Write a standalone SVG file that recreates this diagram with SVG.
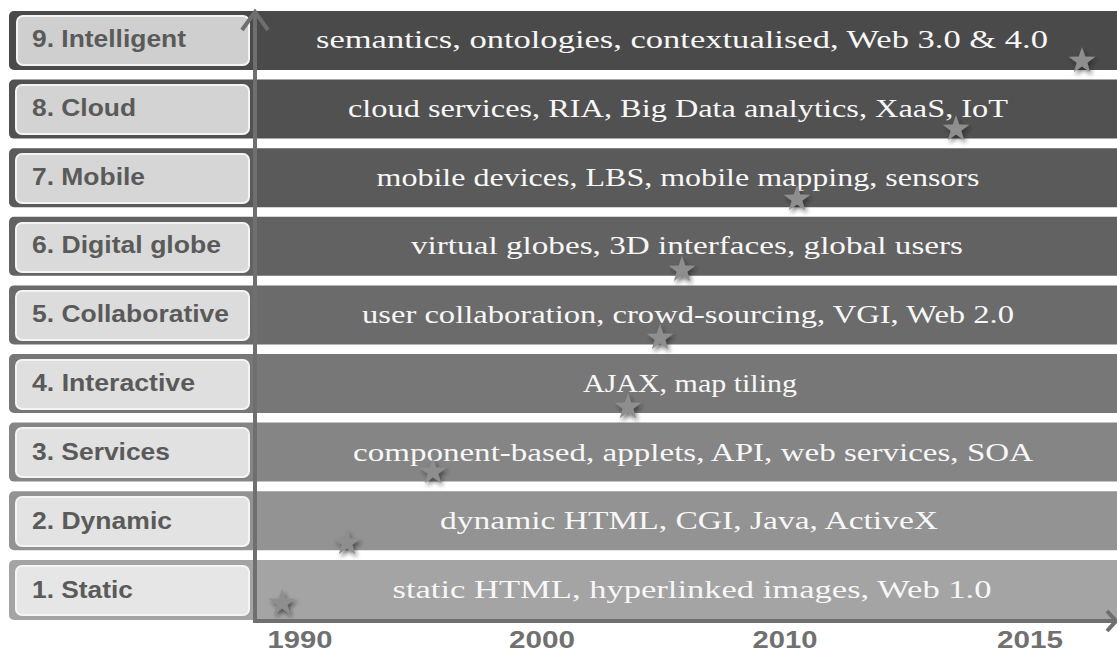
<svg xmlns="http://www.w3.org/2000/svg" width="1117" height="653" viewBox="0 0 1117 653">
<defs>
<style>
.band{stroke:none}
.lbox{stroke:#f4f4f4;stroke-width:2}
.lbl{font-family:"Liberation Sans",Arial,sans-serif;font-weight:bold;font-size:23px;fill:#5a5a5a}
.desc{font-family:"Liberation Serif","Times New Roman",serif;font-size:26px;fill:#f7f7f7;text-anchor:middle}
.yr{font-family:"Liberation Sans",Arial,sans-serif;font-weight:bold;font-size:23px;fill:#707070;text-anchor:middle}
.axis{stroke:#6f6f6f;stroke-width:4;fill:none}
.star{fill:#8e8e8e;filter:url(#sh)}
</style>
<filter id="sh" x="-50%" y="-50%" width="200%" height="200%">
<feDropShadow dx="2" dy="3" stdDeviation="2" flood-color="#202020" flood-opacity="0.6"/>
</filter>
<polygon id="st" points="0,-14 3.29,-4.53 13.31,-4.33 5.33,1.73 8.23,11.33 0,5.6 -8.23,11.33 -5.33,1.73 -13.31,-4.33 -3.29,-4.53"/>
</defs>
<rect width="1117" height="653" fill="#ffffff"/>

<g id="row9">
<rect class="band" x="9" y="11" width="1120" height="59" rx="5" fill="#4a4a4a"/>
<rect class="lbox" x="17" y="16" width="232" height="49" rx="6" fill="#cfcfcf"/>
<text class="lbl" x="32" y="47" textLength="154" lengthAdjust="spacingAndGlyphs">9. Intelligent</text>
<text class="desc" x="682" y="48" textLength="732" lengthAdjust="spacingAndGlyphs">semantics, ontologies, contextualised, Web 3.0 &amp; 4.0</text>
</g>
<g id="row8">
<rect class="band" x="9" y="79.6" width="1120" height="59" rx="5" fill="#515151"/>
<rect class="lbox" x="16" y="85" width="233" height="49" rx="6" fill="#d3d3d3"/>
<text class="lbl" x="32" y="116" textLength="104" lengthAdjust="spacingAndGlyphs">8. Cloud</text>
<text class="desc" x="678" y="117" textLength="660" lengthAdjust="spacingAndGlyphs">cloud services, RIA, Big Data analytics, XaaS, IoT</text>
</g>
<g id="row7">
<rect class="band" x="9" y="148.2" width="1120" height="59" rx="5" fill="#5a5a5a"/>
<rect class="lbox" x="16" y="154" width="233" height="49" rx="6" fill="#d6d6d6"/>
<text class="lbl" x="32" y="185" textLength="113" lengthAdjust="spacingAndGlyphs">7. Mobile</text>
<text class="desc" x="678" y="186" textLength="603" lengthAdjust="spacingAndGlyphs">mobile devices, LBS, mobile mapping, sensors</text>
</g>
<g id="row6">
<rect class="band" x="9" y="216.8" width="1120" height="59" rx="5" fill="#626262"/>
<rect class="lbox" x="16" y="223" width="233" height="49" rx="6" fill="#dadada"/>
<text class="lbl" x="32" y="253" textLength="189" lengthAdjust="spacingAndGlyphs">6. Digital globe</text>
<text class="desc" x="687" y="254" textLength="552" lengthAdjust="spacingAndGlyphs">virtual globes, 3D interfaces, global users</text>
</g>
<g id="row5">
<rect class="band" x="9" y="285.4" width="1120" height="59" rx="5" fill="#6b6b6b"/>
<rect class="lbox" x="16" y="291" width="233" height="49" rx="6" fill="#dcdcdc"/>
<text class="lbl" x="32" y="322" textLength="197" lengthAdjust="spacingAndGlyphs">5. Collaborative</text>
<text class="desc" x="688" y="323" textLength="652" lengthAdjust="spacingAndGlyphs">user collaboration, crowd-sourcing, VGI, Web 2.0</text>
</g>
<g id="row4">
<rect class="band" x="9" y="354" width="1120" height="59" rx="5" fill="#777777"/>
<rect class="lbox" x="16" y="360" width="233" height="49" rx="6" fill="#dfdfdf"/>
<text class="lbl" x="32" y="391" textLength="163" lengthAdjust="spacingAndGlyphs">4. Interactive</text>
<text class="desc" x="690" y="392" textLength="214" lengthAdjust="spacingAndGlyphs">AJAX, map tiling</text>
</g>
<g id="row3">
<rect class="band" x="9" y="422.6" width="1120" height="59" rx="5" fill="#858585"/>
<rect class="lbox" x="16" y="428" width="233" height="49" rx="6" fill="#e1e1e1"/>
<text class="lbl" x="32" y="460" textLength="138" lengthAdjust="spacingAndGlyphs">3. Services</text>
<text class="desc" x="693" y="461" textLength="680" lengthAdjust="spacingAndGlyphs">component-based, applets, API, web services, SOA</text>
</g>
<g id="row2">
<rect class="band" x="9" y="491.2" width="1120" height="59" rx="5" fill="#939393"/>
<rect class="lbox" x="16" y="497" width="233" height="49" rx="6" fill="#e3e3e3"/>
<text class="lbl" x="32" y="529" textLength="140" lengthAdjust="spacingAndGlyphs">2. Dynamic</text>
<text class="desc" x="689" y="529" textLength="498" lengthAdjust="spacingAndGlyphs">dynamic HTML, CGI, Java, ActiveX</text>
</g>
<g id="row1">
<rect class="band" x="9" y="560" width="1120" height="60" rx="5" fill="#a4a4a4"/>
<rect class="lbox" x="16" y="566" width="233" height="49" rx="6" fill="#e6e6e6"/>
<text class="lbl" x="32" y="598" textLength="101" lengthAdjust="spacingAndGlyphs">1. Static</text>
<text class="desc" x="692" y="598" textLength="599" lengthAdjust="spacingAndGlyphs">static HTML, hyperlinked images, Web 1.0</text>
</g>

<g id="connectors">
<line class="axis" x1="255" y1="621" x2="255" y2="13"/>
<polyline class="axis" points="242,30 255,12 268,30" stroke-width="5" stroke-linejoin="miter"/>
<line class="axis" x1="253" y1="621" x2="1114" y2="621"/>
<polyline class="axis" points="1107,611 1116,621 1107,631" stroke-width="5"/>
</g>

<g id="stars">
<use href="#st" class="star" x="1082" y="61"/>
<use href="#st" class="star" x="956" y="129"/>
<use href="#st" class="star" x="797" y="199"/>
<use href="#st" class="star" x="682" y="270"/>
<use href="#st" class="star" x="660" y="338"/>
<use href="#st" class="star" x="628" y="407"/>
<use href="#st" class="star" x="433" y="472"/>
<use href="#st" class="star" x="347" y="543"/>
<use href="#st" class="star" x="282" y="603"/>
</g>

<g id="years">
<text class="yr" x="300" y="648" textLength="65" lengthAdjust="spacingAndGlyphs">1990</text>
<text class="yr" x="542" y="648" textLength="66" lengthAdjust="spacingAndGlyphs">2000</text>
<text class="yr" x="785" y="648" textLength="65" lengthAdjust="spacingAndGlyphs">2010</text>
<text class="yr" x="1030" y="648" textLength="66" lengthAdjust="spacingAndGlyphs">2015</text>
</g>
</svg>
